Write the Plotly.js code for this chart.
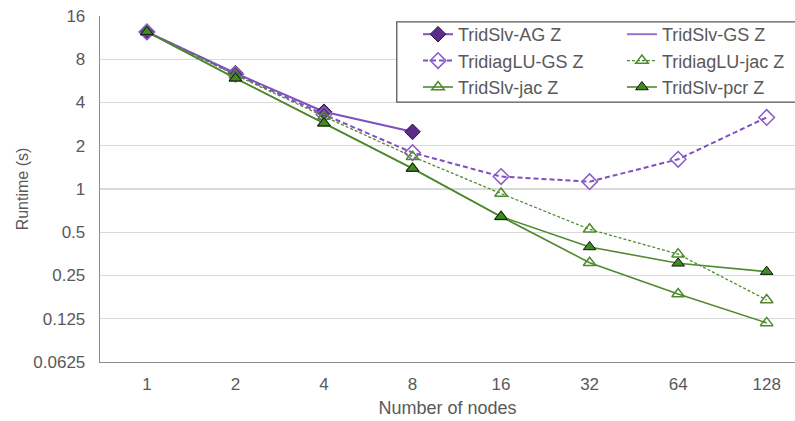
<!DOCTYPE html>
<html>
<head>
<meta charset="utf-8">
<script src="https://cdn.plot.ly/plotly-3.0.1.min.js"></script>
<style>html,body{margin:0;padding:0;background:#fff;}#chart{width:795px;height:421px;}</style>
</head>
<body>
<div id="chart"></div>
<script>
const nodes = ['1', '2', '4', '8', '16', '32', '64', '128'];
const trislvAG = [12.4, 6.4, 3.45, 2.5];
const trislvGS = [null, null, null, null, null, null, null, null];
const tridiagLUGS = [12.4, 6.3, 3.3, 1.79, 1.22, 1.125, 1.61, 3.15];
const tridiagLUjac = [12.4, 6.2, 3.2, 1.68, 0.93, 0.524, 0.352, 0.169];
const trislvJac = [12.4, 5.9, 2.87, 1.39, 0.642, 0.307, 0.186, 0.117];
const trislvPcr = [12.4, 5.9, 2.87, 1.39, 0.642, 0.395, 0.304, 0.266];
const yTickVals = [0.0625, 0.125, 0.25, 0.5, 1, 2, 4, 8, 16];
const yTickText = ['0.0625', '0.125', '0.25', '0.5', '1', '2', '4', '8', '16'];

const purple = '#7f4fbf';
const green = '#4f8a2e';

const traces = [
  {name: 'TridSlv-AG Z', legend: 'legend', x: nodes.slice(0, trislvAG.length), y: trislvAG, mode: 'lines+markers',
   line: {color: purple, width: 2},
   marker: {symbol: 'diamond', size: 12, color: '#5a2d8a', line: {color: '#2a1540', width: 1}}},
  {name: 'TridSlv-GS Z', legend: 'legend2', x: nodes, y: trislvGS, mode: 'lines', showlegend: true,
   line: {color: '#9a6fd0', width: 2}},
  {name: 'TridiagLU-GS Z', legend: 'legend', x: nodes, y: tridiagLUGS, mode: 'lines+markers',
   line: {color: purple, width: 2, dash: '5px,3px'},
   marker: {symbol: 'diamond-open', size: 12, color: '#8a5cc9', line: {width: 1.5}}},
  {name: 'TridiagLU-jac Z', legend: 'legend2', x: nodes, y: tridiagLUjac, mode: 'lines+markers',
   line: {color: green, width: 1.3, dash: '3px,2px'},
   marker: {symbol: 'triangle-up-open', size: 11, color: green, line: {width: 1.5}}},
  {name: 'TridSlv-jac Z', legend: 'legend', x: nodes, y: trislvJac, mode: 'lines+markers',
   line: {color: green, width: 1.6},
   marker: {symbol: 'triangle-up-open', size: 11, color: green, line: {width: 1.5}}},
  {name: 'TridSlv-pcr Z', legend: 'legend2', x: nodes, y: trislvPcr, mode: 'lines+markers',
   line: {color: green, width: 1.6},
   marker: {symbol: 'triangle-up', size: 11, color: '#3f8a22', line: {color: '#111', width: 1}}}
];

const fontFam = 'Liberation Sans, Arial, sans-serif';
const legendCommon = {
  orientation: 'v', yanchor: 'top', xanchor: 'left', y: 1.0,
  bgcolor: 'rgba(0,0,0,0)', borderwidth: 0,
  font: {size: 18, color: '#595959'}
};
const layout = {
  width: 795, height: 421,
  margin: {l: 100, r: 0, t: 16, b: 59},
  paper_bgcolor: '#fff', plot_bgcolor: '#fff',
  font: {family: fontFam, size: 17, color: '#595959'},
  showlegend: true,
  xaxis: {
    type: 'category', categoryorder: 'array', categoryarray: nodes,
    range: [-0.53, 7.32],
    showline: true, linecolor: '#8c8c8c', linewidth: 1.3,
    showgrid: false, zeroline: false, ticks: '',
    ticklabelstandoff: 6,
    tickfont: {size: 17, color: '#595959'},
    title: {text: 'Number of nodes', font: {size: 18, color: '#595959'}, standoff: 8}
  },
  yaxis: {
    type: 'log', range: [Math.log10(0.0625), Math.log10(16)],
    tickvals: yTickVals, ticktext: yTickText,
    showline: true, linecolor: '#8c8c8c', linewidth: 1.3,
    gridcolor: '#d9d9d9', gridwidth: 1.3, zeroline: false, ticks: '',
    ticklabelstandoff: 10,
    tickfont: {size: 17, color: '#595959'},
    title: {text: 'Runtime (s)', font: {size: 16, color: '#595959'}, standoff: 0}
  },
  legend: Object.assign({}, legendCommon, {x: 0.4576}),
  legend2: Object.assign({}, legendCommon, {x: 0.751}),
  shapes: [{
    type: 'rect', xref: 'paper', yref: 'paper', layer: 'above',
    x0: 0.427, x1: 1.05, y0: 0.751, y1: 0.983,
    fillcolor: '#ffffff', line: {color: '#595959', width: 1.3}
  }]
};

Plotly.newPlot('chart', traces, layout, {displayModeBar: false, staticPlot: true});
</script>
</body>
</html>
